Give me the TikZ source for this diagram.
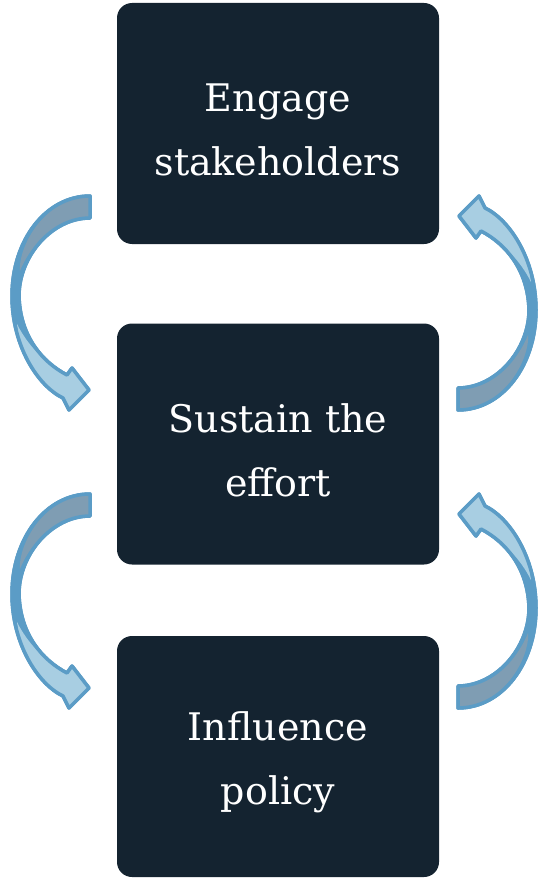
\documentclass[tikz,border=0pt]{standalone}
\usepackage{fontspec}
\setmainfont{DejaVu Serif}
\usepackage{tikz}
\usetikzlibrary{positioning}
\definecolor{boxnavy}{HTML}{142330}
\definecolor{arrline}{HTML}{5B9CC6}
\definecolor{arrdark}{HTML}{7F9DB3}
\definecolor{arrlight}{HTML}{A8CEE2}
\tikzset{
  stepbox/.style={rectangle, rounded corners=15pt, fill=boxnavy,
    minimum width=322pt, minimum height=241pt},
  steptext/.style={text=white, align=center, font=\fontsize{38}{64}\selectfont},
  band/.style={draw=arrline, line width=3.5pt, line join=round},
  curvarr/.pic={
    % whole ribbon
    \path[band, fill=arrline] (0,0) .. controls (-44,0) and (-78,44) .. (-78,100)
      .. controls (-78,150) and (-52,190) .. (-27,202)
      -- (-21,214) -- (-1,194) -- (-18,172) -- (-23,179)
      .. controls (-48,166) and (-70,140) .. (-71,100)
      .. controls (-71,60) and (-38,22) .. (0,22) -- cycle;
    % tail part, darker
    \fill[arrdark] (0,22) .. controls (-30,22) and (-58,45) .. (-70,75)
      .. controls (-72,50) and (-44,0) .. (0,0) -- cycle;
    % head part, lighter
    \fill[arrlight] (-73,128) .. controls (-70,160) and (-50,190) .. (-27,202)
      -- (-21,214) -- (-1,194) -- (-18,172) -- (-23,179)
      .. controls (-45,167) and (-62,150) .. (-73,128) -- cycle;
    % outline again on top
    \path[band] (0,0) .. controls (-44,0) and (-78,44) .. (-78,100)
      .. controls (-78,150) and (-52,190) .. (-27,202)
      -- (-21,214) -- (-1,194) -- (-18,172) -- (-23,179)
      .. controls (-48,166) and (-70,140) .. (-71,100)
      .. controls (-71,60) and (-38,22) .. (0,22) -- cycle;
  }
}

\begin{document}
\begin{tikzpicture}[x=1pt, y=-1pt]
  \useasboundingbox (0,0) rectangle (539,880);
  \node[stepbox] (engage) at (278,123.5) {};
  \node[stepbox] (sustain) at (278,444) {};
  \node[stepbox] (influence) at (278,756.5) {};
  \node[steptext] (engagetxt) at ([yshift=-6pt]engage.center) {Engage\\stakeholders};
  \node[steptext] (sustaintxt) at ([yshift=-6pt]sustain.center) {Sustain the\\effort};
  \node[steptext] (influencetxt) at ([yshift=-6pt]influence.center) {Influence\\policy};
  \pic at (90,196) {curvarr};
  \pic[rotate=180] at (458,410) {curvarr};
  \pic at (90,494) {curvarr};
  \pic[rotate=180] at (458,708) {curvarr};
\end{tikzpicture}
\end{document}
